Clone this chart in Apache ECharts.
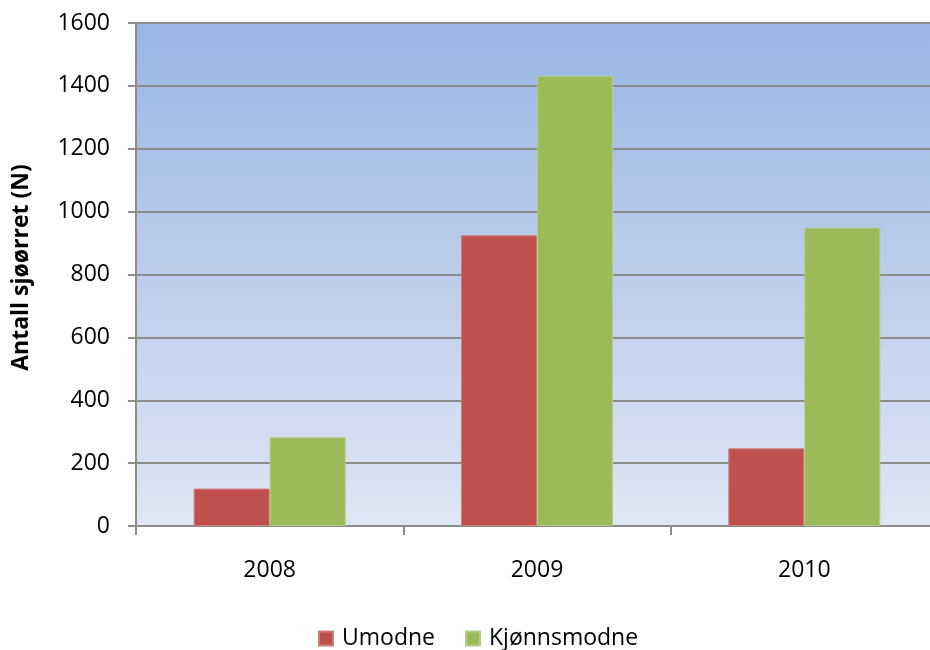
<!DOCTYPE html>
<html>
<head>
<meta charset="utf-8">
<script src="https://cdn.jsdelivr.net/npm/echarts@6/dist/echarts.min.js"></script>
<style>
  html, body { margin: 0; padding: 0; background: #ffffff; }
  #chart { width: 930px; height: 650px; }
</style>
</head>
<body>
<div id="chart"></div>
<script>
// Sea trout counts per year, split by maturity
const years = ['2008', '2009', '2010'];
const umodne = [119, 925, 247];
const kjonnsmodne = [282, 1432, 949];
const yTicks = [0, 200, 400, 600, 800, 1000, 1200, 1400, 1600];

const font = '"Open Sans", Lato, "Liberation Sans", sans-serif';
const chart = echarts.init(document.getElementById('chart'), null, { renderer: 'canvas' });

chart.setOption({
  animation: false,
  textStyle: { fontFamily: font },
  grid: {
    left: 136,
    top: 23,
    width: 802,
    height: 503,
    outerBoundsMode: 'none',
    containLabel: false,
    show: true,
    borderWidth: 0,
    backgroundColor: {
      type: 'linear', x: 0, y: 0, x2: 0, y2: 1,
      colorStops: [
        { offset: 0, color: '#99b5e3' },
        { offset: 1, color: '#dfe6f4' }
      ]
    }
  },
  legend: {
    data: ['Umodne', 'Kjønnsmodne'],
    top: 622,
    left: 313,
    itemWidth: 14,
    itemHeight: 14,
    itemGap: 30,
    icon: 'rect',
    textStyle: { fontSize: 23, color: '#000', fontFamily: font, padding: [0, 0, 0, 4] }
  },
  xAxis: {
    type: 'category',
    data: years,
    axisLine: { lineStyle: { color: '#8c8c8c', width: 2 } },
    axisTick: { show: true, alignWithLabel: false, length: 9, lineStyle: { color: '#8c8c8c', width: 2 } },
    axisLabel: { fontSize: 23, color: '#000', margin: 33, fontFamily: font }
  },
  yAxis: {
    type: 'value',
    min: yTicks[0],
    max: yTicks[yTicks.length - 1],
    interval: yTicks[1] - yTicks[0],
    name: 'Antall sjøørret (N)',
    nameLocation: 'middle',
    nameGap: 103,
    nameTextStyle: { fontSize: 23, fontWeight: 'bold', color: '#000', fontFamily: font, padding: [0, 0, 0, 14] },
    axisLine: { show: true, lineStyle: { color: '#8c8c8c', width: 2 } },
    axisTick: { show: true, length: 8, lineStyle: { color: '#8c8c8c', width: 2 } },
    axisLabel: {
      fontSize: 23, color: '#000', margin: 26, fontFamily: font,
      formatter: (v) => String(v)
    },
    splitLine: { show: true, lineStyle: { color: '#8c8c8c', width: 2 } }
  },
  series: [
    {
      name: 'Umodne',
      type: 'bar',
      data: umodne,
      barWidth: 76,
      barGap: '0%',
      itemStyle: { color: '#c0504d', borderColor: '#d07c79', borderWidth: 1 }
    },
    {
      name: 'Kjønnsmodne',
      type: 'bar',
      data: kjonnsmodne,
      barWidth: 76,
      barGap: '0%',
      itemStyle: { color: '#9bbb59', borderColor: '#b3cc86', borderWidth: 1 }
    }
  ]
});
</script>
</body>
</html>
